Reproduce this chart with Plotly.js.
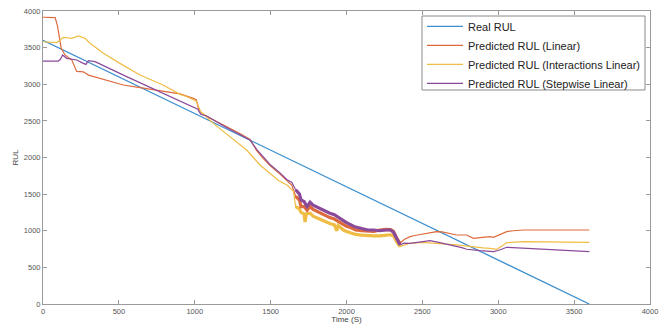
<!DOCTYPE html>
<html>
<head>
<meta charset="utf-8">
<script src="https://cdn.plot.ly/plotly-3.0.1.min.js"></script>
<style>html,body{margin:0;padding:0;background:#fff;}#chart{width:664px;height:324px;}</style>
</head>
<body>
<div id="chart"></div>
<script>
// Series names
const seriesNames = ["Real RUL", "Predicted RUL (Linear)", "Predicted RUL (Interactions Linear)", "Predicted RUL (Stepwise Linear)"];

// Real RUL
const realX = [0, 3600];
const realY = [3600, 0];

// Predicted RUL (Linear)
const linX = [0, 80, 95, 110, 120, 145, 190, 222, 266, 300, 375, 441, 529, 640, 750, 860, 903, 990, 1010, 1028, 1060, 1100, 1200, 1300, 1364, 1408, 1452, 1496, 1562, 1606, 1640, 1665,
  1690, 1700, 1720, 1740, 1760, 1780, 1800, 1830, 1860, 1890, 1920, 1950, 1980, 2000, 2030, 2060, 2100, 2140, 2180, 2220, 2260, 2290, 2310, 2330, 2353,
  2380, 2419, 2450, 2506, 2550, 2594, 2630, 2660, 2700, 2726, 2792, 2836, 2880, 2946, 2968, 3000, 3056, 3100, 3166, 3400, 3600];
const linY = [3915, 3910, 3800, 3600, 3490, 3400, 3330, 3175, 3170, 3125, 3080, 3050, 2990, 2955, 2920, 2885, 2868, 2808, 2790, 2640, 2585, 2540, 2435, 2325, 2245, 2095, 1985, 1890, 1775, 1685, 1620, 1470,
  1420, 1330, 1330, 1280, 1330, 1290, 1270, 1230, 1210, 1180, 1160, 1120, 1080, 1060, 1040, 1010, 1000, 990, 990, 1010, 1020, 1015, 990, 900, 829,
  880, 919, 935, 956, 975, 988, 985, 974, 950, 942, 942, 897, 905, 919, 910, 940, 988, 1000, 1010, 1010, 1010];

// Predicted RUL (Interactions Linear)
const intX = [0, 90, 110, 134, 160, 189, 233, 260, 277, 310, 398, 507, 639, 791, 850, 903, 950, 990, 1010, 1040, 1060, 1122, 1232, 1342, 1430, 1496, 1550, 1610, 1650, 1665,
  1690, 1700, 1720, 1727, 1735, 1760, 1780, 1800, 1830, 1860, 1890, 1920, 1935, 1945, 1980, 2000, 2030, 2060, 2100, 2140, 2180, 2220, 2260, 2290, 2310, 2330, 2353,
  2380, 2419, 2500, 2616, 2680, 2726, 2790, 2836, 2900, 2946, 2990, 3030, 3056, 3166, 3400, 3600];
const intY = [3580, 3567, 3600, 3640, 3635, 3627, 3659, 3645, 3627, 3559, 3422, 3285, 3126, 2990, 2920, 2862, 2830, 2795, 2770, 2620, 2590, 2466, 2284, 2102, 1898, 1784, 1690, 1620, 1540, 1330,
  1300, 1250, 1230, 1120, 1230, 1240, 1200, 1180, 1150, 1120, 1100, 1080, 1000, 1070, 1010, 990, 970, 950, 940, 930, 930, 930, 940, 945, 930, 850, 783,
  800, 829, 840, 829, 815, 806, 790, 774, 765, 760, 747, 800, 838, 851, 846, 842];

// Predicted RUL (Stepwise Linear)
const stepX = [0, 100, 115, 129, 156, 222, 266, 283, 299, 343, 551, 791, 903, 991, 1020, 1040, 1078, 1200, 1300, 1364, 1408, 1452, 1496, 1562, 1606, 1640, 1665,
  1690, 1700, 1720, 1740, 1760, 1780, 1800, 1830, 1860, 1890, 1920, 1950, 1980, 2000, 2030, 2060, 2100, 2140, 2180, 2220, 2260, 2290, 2310, 2330, 2353,
  2380, 2419, 2480, 2550, 2600, 2638, 2690, 2726, 2760, 2792, 2840, 2880, 2968, 3000, 3056, 3166, 3400, 3600];
const stepY = [3317, 3317, 3340, 3400, 3354, 3331, 3285, 3271, 3322, 3308, 3104, 2876, 2775, 2694, 2660, 2590, 2566, 2420, 2310, 2240, 2110, 2000, 1905, 1790, 1700, 1660, 1560,
  1500, 1420, 1400, 1330, 1390, 1350, 1330, 1290, 1270, 1240, 1220, 1180, 1130, 1110, 1080, 1050, 1030, 1010, 1010, 1000, 1010, 1010, 980, 900, 806,
  830, 829, 845, 865, 845, 829, 810, 792, 770, 747, 735, 728, 714, 730, 774, 760, 740, 714];

// Axis ticks
const tickVals = [0, 500, 1000, 1500, 2000, 2500, 3000, 3500, 4000];
const tickText = ["0", "500", "1000", "1500", "2000", "2500", "3000", "3500", "4000"];

const colors = ["#3d8fce", "#dd6a3c", "#efbd45", "#8a4a9a"];

function line(x, y, i, show, w) {
  return {x: x, y: y, type: "scatter", mode: "lines", name: seriesNames[i], showlegend: show,
    line: {color: colors[i], width: w}, hoverinfo: "skip"};
}
function band(x, y, i) {
  const bx = [], by = [];
  for (let k = 0; k < x.length; k++) { if (x[k] >= 1665 && x[k] <= 2353) { bx.push(x[k]); by.push(y[k]); } }
  return line(bx, by, i, false, 3.2);
}

const data = [
  line(realX, realY, 0, true, 1.3),
  line(linX, linY, 1, true, 1.2),
  line(intX, intY, 2, true, 1.2),
  line(stepX, stepY, 3, true, 1.2),
  band(intX, intY, 2),
  band(linX, linY, 1),
  band(stepX, stepY, 3)
];

const axisCommon = {
  showgrid: false, zeroline: false, showline: true, linecolor: "#9a9a9a", linewidth: 1,
  mirror: "ticks", ticks: "inside", ticklen: 4, tickcolor: "#9a9a9a",
  tickfont: {family: "Liberation Sans, Arial, sans-serif", size: 7.5, color: "#555"},
  tickvals: tickVals, ticktext: tickText
};

const layout = {
  width: 664, height: 324,
  margin: {l: 43, r: 14, t: 11, b: 20},
  paper_bgcolor: "#fff", plot_bgcolor: "#fff",
  font: {family: "Liberation Sans, Arial, sans-serif", color: "#444"},
  xaxis: Object.assign({}, axisCommon, {range: [0, 4000],
    title: {text: "Time (S)", font: {size: 8, color: "#444"}, standoff: 0}}),
  yaxis: Object.assign({}, axisCommon, {range: [0, 4000],
    title: {text: "RUL", font: {size: 8, color: "#444"}, standoff: 4}}),
  legend: {x: 0.6244, y: 0.997, xanchor: "left", yanchor: "top", bgcolor: "rgba(0,0,0,0)",
    borderwidth: 0, itemwidth: 36, font: {size: 11, color: "#222", family: "Liberation Sans, Arial, sans-serif"},
    tracegroupgap: 0},
  shapes: [{type: "rect", xref: "paper", yref: "paper", x0: 0.6244, x1: 0.9918, y0: 0.7304, y1: 0.9829,
    line: {color: "#8a8a8a", width: 1}, fillcolor: "rgba(255,255,255,1)", layer: "above"}],
  showlegend: true
};

Plotly.newPlot("chart", data, layout, {displayModeBar: false, staticPlot: true});
</script>
</body>
</html>
